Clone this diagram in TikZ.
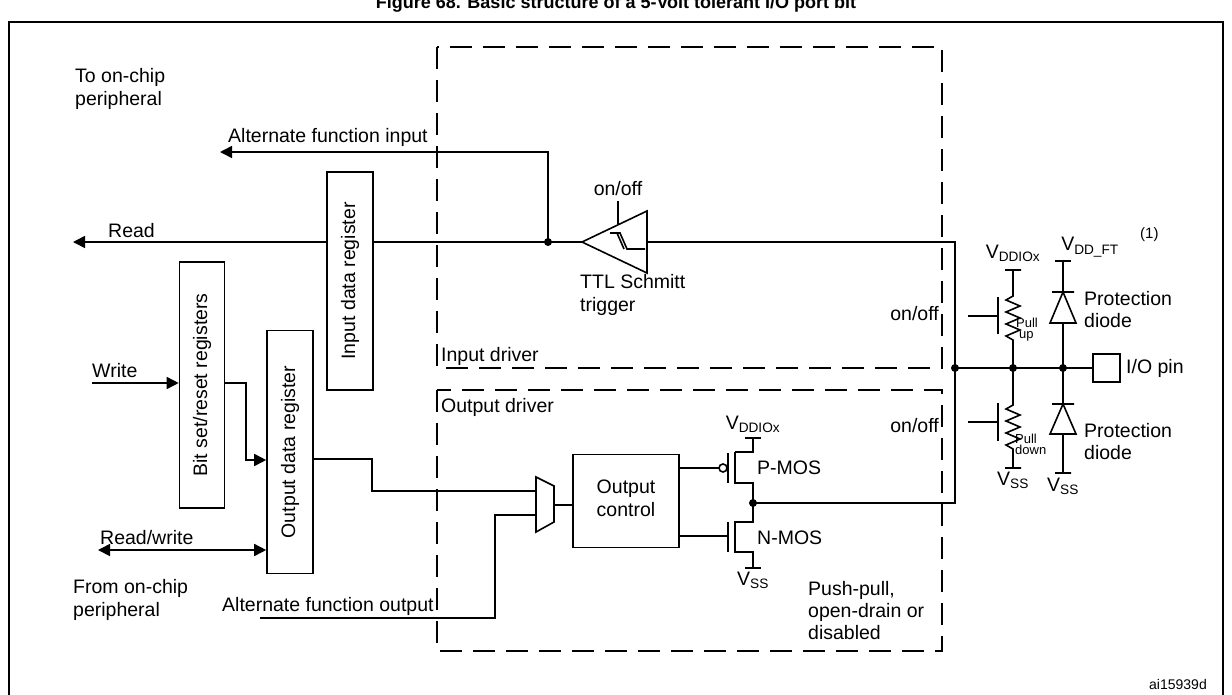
\documentclass[tikz,border=0pt]{standalone}
\usepackage{fontspec}
\setmainfont{Liberation Sans}
\usetikzlibrary{positioning}
\usetikzlibrary{arrows.meta}
\tikzset{
	every node/.style = {font=\fontsize{19.5}{22}\selectfont, inner sep=0pt},
	wire/.style = {line width=1.6pt},
	tip/.style = {-{Triangle[length=12pt,width=12pt]}},
	regbox/.style = {draw, fill=white, line width=1.6pt},
	drvbox/.style = {draw, line width=1.4pt, dash pattern=on 22pt off 11pt},
	jdot/.style = {circle, fill, minimum size=8pt},
	small/.style = {font=\fontsize{13}{13}\selectfont, align=left}
}
\begin{document}
\begin{tikzpicture}[x=1pt, y=-1pt, line join=miter]
		\useasboundingbox (0,0) rectangle (1232,694);
		% title and frame
		\node[font=\bfseries\fontsize{18}{20}\selectfont] (title) at (616,4) {Figure 68. Basic structure of a 5-Volt tolerant I/O port bit};
		\draw[line width=2pt] (9,700) -- (9,22) -- (1223,22) -- (1223,700);
		% driver boxes
		\draw[drvbox] (437,47) rectangle (942,368);
		\draw[drvbox] (437,390) rectangle (942,651);
		\node[anchor=south west] (indrv) at (441,366) {Input driver};
		\node[anchor=north west] (outdrv) at (441,398) {Output driver};
		% left side texts
		\node[anchor=west, align=left] (tochip) at (75,89) {To on-chip\\[1pt]peripheral};
		\node[anchor=west, align=left] (fromchip) at (73,600) {From on-chip\\[1pt]peripheral};
		\node[anchor=south west] (afi) at (228,147) {Alternate function input};
		\node[anchor=south west] (rd) at (108,238) {Read};
		\node[anchor=south west] (wr) at (92,378) {Write};
		\node[anchor=south west] (rw) at (100,545) {Read/write};
		\node[anchor=south west] (afo) at (222,616) {Alternate function output};
		% input path
		\coordinate (readend) at (73,242);
		\coordinate (afiend) at (220,152);
		\coordinate (jin) at (548,242);
		\coordinate (sttip) at (582,242);
		\coordinate (stout) at (647,242);
		\coordinate (jbus) at (955,368);
		\node[jdot] (jindot) at (jin) {};
		\draw[wire, tip] (sttip) -- (readend);
		\draw[wire, tip] (jin) |- (afiend);
		\draw[wire] (sttip) -- (647,211) -- (647,273) -- cycle;
		\draw[wire] (610,233) -- (620,233) -- (627,249) -- (645,249) (617,233) -- (624,249);
		\draw[wire] (618,201) -- (618,224);
		\node[above=5pt] (stonoff) at (618,201) {on/off};
		\node[anchor=north west, align=left] (ttl) at (580,274) {TTL Schmitt\\[1pt]trigger};
		\draw[wire] (stout) -- (955,242) -- (jbus);
		% registers
		\node[regbox, minimum width=46, minimum height=218] (idr) at (350,281) {\rotatebox{90}{Input data register}};
		\node[regbox, minimum width=45, minimum height=246] (bsr) at (202,385) {\rotatebox{90}{Bit set/reset registers}};
		\node[regbox, minimum width=46, minimum height=243] (odr) at (290,452) {\rotatebox{90}{Output data register}};
		\node[regbox, minimum width=106, minimum height=93] (octl) at (626,501) {\begin{tabular}{c}Output\\[1pt]control\end{tabular}};
		% output path
		\draw[wire, tip] (92,383) -- (bsr.west |- 0,383);
		\draw[wire, tip] (bsr.east |- 0,383) -- (246,383) -- (246,460) -- (odr.west |- 0,460);
		\draw[wire, {Triangle[length=12pt,width=12pt]}-{Triangle[length=12pt,width=12pt]}] (98,550) -- (odr.west |- 0,550);
		\draw[wire] (536,477) -- (554,486) -- (554,522) -- (536,532) -- cycle;
		\draw[wire] (odr.east |- 0,459) -- (372,459) -- (372,491) -- (536,491);
		\draw[wire] (260,618) -- (495,618) -- (495,515) -- (536,515);
		\draw[wire] (554,505) -- (octl.west |- 0,505);
		% push-pull stage
		\coordinate (jout) at (753,503);
		\draw[wire] (octl.east |- 0,468) -- (719,468);
		\draw[wire] (723,468) circle (4);
		\draw[wire] (728,453) -- (728,483) (735,452) -- (735,484);
		\draw[wire] (745,438) -- (761,438) (753,438) -- (753,452) -- (735,452);
		\draw[wire] (735,483) -- (753,483) -- (jout) -- (753,522) -- (735,522);
		\draw[wire] (octl.east |- 0,536) -- (728,536);
		\draw[wire] (728,522) -- (728,552) (735,521) -- (735,553);
		\draw[wire] (735,552) -- (753,552) -- (753,568) (745,568) -- (761,568);
		\node[jdot] (joutdot) at (jout) {};
		\draw[wire] (jout) -- (955,503) -- (jbus);
		\node[anchor=south] (vddp) at (753,433) {V\textsubscript{DDIOx}};
		\node[anchor=north] (vssn) at (753,572) {V\textsubscript{SS}};
		\node[anchor=west] (pmos) at (757,468) {P-MOS};
		\node[anchor=west] (nmos) at (757,538) {N-MOS};
		\node[anchor=north west, align=left] (pp) at (808,581) {Push-pull,\\[0pt]open-drain or\\[0pt]disabled};
		% pull resistors, diodes and pin
		\coordinate (jpull) at (1013,368);
		\coordinate (jdio) at (1063,368);
		\node[jdot] (jbusdot) at (jbus) {};
		\node[jdot] (jpulldot) at (jpull) {};
		\node[jdot] (jdiodot) at (jdio) {};
		\node[regbox, minimum width=27, minimum height=28, anchor=west] (pin) at (1092,368) {};
		\node[anchor=west] (pinlbl) at (1126,368) {I/O pin};
		\draw[wire] (jbus) -- (pin.west);
		\node[anchor=east] (puonoff) at (939,314) {on/off};
		\node[anchor=east] (pdonoff) at (939,426) {on/off};
		\draw[wire] (968,316) -- (998,316) (998,297) -- (998,334);
		\draw[wire] (1005,270) -- (1021,270) (1013,270) -- (1013,296) -- (1006,300) -- (1020,306) -- (1006,312) -- (1020,318) -- (1006,324) -- (1020,330) -- (1006,336) -- (1013,340) -- (jpull);
		\draw[wire] (968,422) -- (998,422) (998,403) -- (998,441);
		\draw[wire] (jpull) -- (1013,405) -- (1006,409) -- (1020,415) -- (1006,421) -- (1020,427) -- (1006,433) -- (1020,439) -- (1006,445) -- (1013,449) -- (1013,468) (1005,468) -- (1021,468);
		\node[small, anchor=west] (pu) at (1016,330) {Pull\\[-2pt]\hspace*{3pt}up};
		\node[small, anchor=west] (pd) at (1015,444) {Pull\\[-2pt]down};
		\node[anchor=south] (vddio) at (1013,262) {V\textsubscript{DDIOx}};
		\node[anchor=north] (vsspd) at (1013,472) {V\textsubscript{SS}};
		\draw[wire] (1055,261) -- (1071,261) (1063,261) -- (1063,292);
		\draw[wire] (1052,292) -- (1074,292) (1063,292) -- (1050,323) -- (1076,323) -- cycle (1063,323) -- (jdio);
		\draw[wire] (jdio) -- (1063,404) (1052,404) -- (1074,404) (1063,404) -- (1050,434) -- (1076,434) -- cycle (1063,434) -- (1063,473) (1055,473) -- (1071,473);
		\node[anchor=south] (vddft) at (1090,257) {V\textsubscript{DD\_FT}};
		\node[anchor=west, font=\fontsize{15}{17}\selectfont] (fn) at (1140,235) {(1)};
		\node[anchor=west, align=left] (pd1) at (1084,310) {Protection\\[0pt]diode};
		\node[anchor=west, align=left] (pd2) at (1084,442) {Protection\\[0pt]diode};
		\node[anchor=north] (vssd) at (1063,478) {V\textsubscript{SS}};
		\node[font=\fontsize{14}{16}\selectfont] (ref) at (1178,684) {ai15939d};
	\end{tikzpicture}
\end{document}
